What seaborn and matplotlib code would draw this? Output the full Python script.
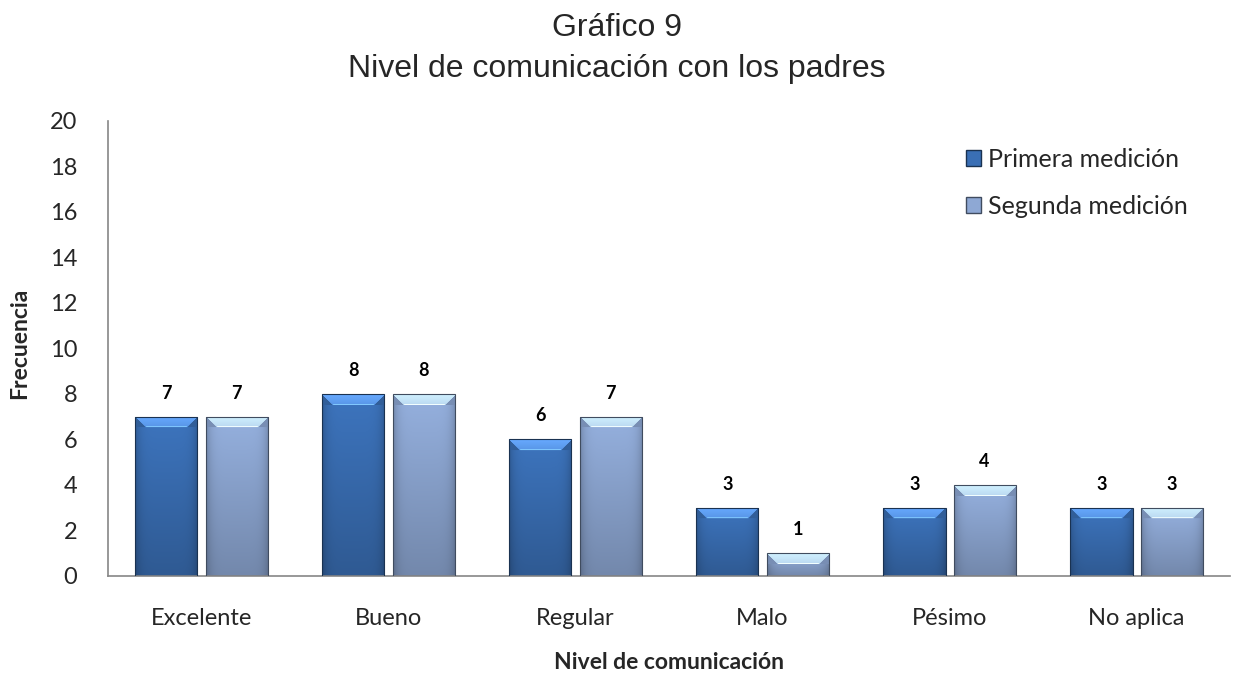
import numpy as np
import pandas as pd
import matplotlib
matplotlib.use("Agg")
import matplotlib.pyplot as plt
import seaborn as sns
from matplotlib.patches import Patch

categorias = ["Excelente", "Bueno", "Regular", "Malo", "Pésimo", "No aplica"]
primera = [7, 8, 6, 3, 3, 3]
segunda = [7, 8, 7, 1, 4, 3]
series = ["Primera medición", "Segunda medición"]
yticks = [0, 2, 4, 6, 8, 10, 12, 14, 16, 18, 20]

df = pd.DataFrame({
    "Nivel": categorias * 2,
    "Frecuencia": primera + segunda,
    "Medición": [series[0]] * len(categorias) + [series[1]] * len(categorias),
})

base = {series[0]: np.array([58, 111, 181]) / 255,
        series[1]: np.array([142, 168, 212]) / 255}

sns.set_theme(style="white")
plt.rcParams["font.family"] = ["Lato", "DejaVu Sans"]

fig = plt.figure(figsize=(12.33, 6.79), dpi=100)
ax = fig.add_axes([0.0876, 0.1517, 0.91, 0.6701])

sns.barplot(data=df, x="Nivel", y="Frecuencia", hue="Medición",
            order=categorias, hue_order=series, palette=base,
            width=0.75, gap=0.115, ax=ax, legend=False)

ax.set_xlim(-0.5, len(categorias) - 0.5)
ax.set_ylim(0, 20)
ax.set_yticks(yticks)

fig.canvas.draw()
px_per_unit = ax.transData.transform((0, 1))[1] - ax.transData.transform((0, 0))[1]
px_per_x = ax.transData.transform((1, 0))[0] - ax.transData.transform((0, 0))[0]


def bevel_image(color, h_px, w_px):
    """Build an RGB array giving a bar a beveled, gradient look."""
    h_px = max(int(round(h_px)), 2)
    w_px = max(int(round(w_px)), 2)
    rows = np.linspace(0, 1, h_px)[:, None]
    cols = np.linspace(0, 1, w_px)[None, :]
    # vertical shading: slightly lighter near top, darker at bottom
    shade = 1.05 - 0.24 * rows
    # darken toward left/right edges
    edge = 1 - 0.2 * (np.abs(cols - 0.5) * 2) ** 6
    img = np.clip(color[None, None, :] * (shade * edge)[..., None], 0, 1)
    # top bevel: light trapezoid band
    band = 11
    yy, xx = np.mgrid[0:h_px, 0:w_px]
    top = (yy < band) & (xx >= yy) & (xx < w_px - yy)
    light = np.clip(color * 1.25 + 0.12, 0, 1)
    grad = (yy / band)[..., None]
    img = np.where(top[..., None], light * (1 - 0.35 * grad) + color * 0.35 * grad, img)
    # thin bright highlight line inside the bevel edge
    hl = (yy == band - 1) & (xx >= band) & (xx < w_px - band)
    img[hl] = np.clip(color * 1.35 + 0.2, 0, 1)
    # side bevel triangles, slightly darker
    side = (~top) & (yy < band) & ((xx < yy) | (xx >= w_px - yy))
    img[side] = color * 0.85
    return img


for patch, serie in zip(ax.patches, [s for s in series for _ in categorias]):
    x, y = patch.get_x(), patch.get_y()
    w, h = patch.get_width(), patch.get_height()
    if h <= 0:
        continue
    col = base[serie]
    img = bevel_image(col, h * px_per_unit, w * px_per_x)
    im = ax.imshow(img, extent=(x, x + w, y, y + h), aspect="auto",
                   interpolation="bilinear", zorder=2)
    im.set_clip_path(patch)
    patch.set_facecolor("none")
    patch.set_edgecolor(col * 0.45)
    patch.set_linewidth(0.8)
    patch.set_zorder(3)

ax.set_aspect("auto")
ax.set_xlim(-0.5, len(categorias) - 0.5)
ax.set_ylim(0, 20)

# value labels above each bar
for patch in ax.patches:
    h = patch.get_height()
    ax.annotate(f"{h:.0f}", (patch.get_x() + patch.get_width() / 2, h),
                xytext=(0, 17), textcoords="offset points",
                ha="center", va="center", fontsize=13, fontweight="bold",
                color="black")

# axes styling
for s in ["top", "right"]:
    ax.spines[s].set_visible(False)
for s in ["left", "bottom"]:
    ax.spines[s].set_color("#868686")
    ax.spines[s].set_linewidth(1.2)

ax.tick_params(axis="y", which="major", direction="out", length=6,
               color="#868686", width=1.2, labelsize=17, pad=16)
ax.tick_params(axis="x", which="major", length=0, labelsize=17, pad=23)
ax.set_xticks(np.arange(-0.5, len(categorias), 1.0), minor=True)
ax.tick_params(axis="x", which="minor", direction="out", length=6,
               color="#868686", width=1.2)
ax.set_yticklabels([str(v) for v in yticks])

ax.set_xlabel("Nivel de comunicación", fontsize=16.5, fontweight="bold")
ax.xaxis.label.set_va("center")
ax.xaxis.set_label_coords(0.5, -0.191)
ax.set_ylabel("Frecuencia", fontsize=16.5, fontweight="bold")
ax.yaxis.label.set_va("center")
ax.yaxis.set_label_coords(-0.0784, 0.512)

fig.text(0.5, 0.9588, "Gráfico 9", ha="center", va="center",
         fontsize=23, family="Liberation Sans")
fig.text(0.5, 0.8984, "Nivel de comunicación con los padres", ha="center",
         va="center", fontsize=23, family="Liberation Sans")

handles = [Patch(facecolor=base[s], edgecolor=base[s] * 0.45) for s in series]
ax.legend(handles, series, loc="upper right", bbox_to_anchor=(0.982, 0.99),
          frameon=False, fontsize=18, handlelength=0.6, handleheight=0.6,
          handletextpad=0.25, labelspacing=0.95)

fig.savefig("out.png", dpi=100)
